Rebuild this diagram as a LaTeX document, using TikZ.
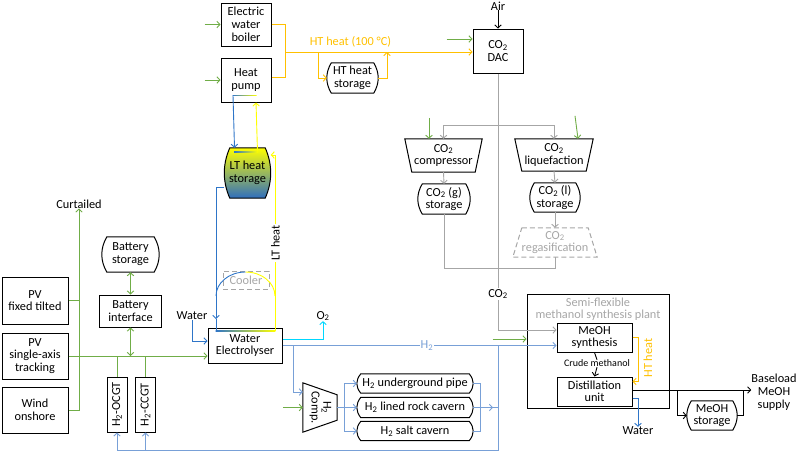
\documentclass[tikz,border=0pt]{standalone}
\usepackage{fontspec}
\setmainfont{Carlito}
\usetikzlibrary{arrows.meta,calc}
\definecolor{gcol}{RGB}{112,173,71}
\definecolor{ocol}{RGB}{255,192,0}
\definecolor{ycol}{RGB}{255,255,0}
\definecolor{bcol}{RGB}{46,117,200}
\definecolor{lbcol}{RGB}{120,160,215}
\definecolor{ccol}{RGB}{0,215,255}
\definecolor{grcol}{RGB}{166,166,166}
\definecolor{ltbot}{RGB}{47,110,190}
\definecolor{ltmid}{RGB}{205,220,160}
% storage outline: #1 options, #2 node name, #3 bulge
\newcommand\storoutline[3][]{%
  \draw[bline,#1] ([xshift=#3]#2.north west) -- ([xshift=-#3]#2.north east)
    .. controls ([xshift=#3/3]$(#2.north east)!0.33!(#2.south east)$)
       and ([xshift=#3/3]$(#2.north east)!0.67!(#2.south east)$) .. ([xshift=-#3]#2.south east)
    -- ([xshift=#3]#2.south west)
    .. controls ([xshift=-#3/3]$(#2.north west)!0.67!(#2.south west)$)
       and ([xshift=-#3/3]$(#2.north west)!0.33!(#2.south west)$) .. ([xshift=#3]#2.north west) -- cycle;}
\begin{document}
\begin{tikzpicture}[x=1pt,y=-1pt,
  every node/.style={font=\fontsize{12.3}{12.8}\selectfont, inner sep=0pt, align=center},
  box/.style={draw, line width=1pt, rectangle},
  stor/.style={rectangle},
  bline/.style={line width=1pt},
  ln/.style={line width=0.9pt},
  arr/.style={-{Straight Barb[length=3pt,width=6.5pt]}},
  dar/.style={{Straight Barb[length=3pt,width=6.5pt]}-{Straight Barb[length=3pt,width=6.5pt]}},
  g/.style={ln,draw=gcol},
  o/.style={ln,draw=ocol},
  yl/.style={ln,draw=ycol},
  b/.style={ln,draw=bcol},
  lb/.style={ln,draw=lbcol},
  cy/.style={ln,draw=ccol},
  gr/.style={ln,draw=grcol},
  k/.style={ln,draw=black},
  lbl/.style={fill=white, inner sep=1pt}
]
\useasboundingbox (0,0) rectangle (800,456);

% ---------- nodes ----------
\node[box, minimum width=66pt, minimum height=47pt] (pvf) at (35,300.5) {PV\\fixed tilted};
\node[box, minimum width=66pt, minimum height=46pt] (pvs) at (35,356) {PV\\single-axis\\tracking};
\node[box, minimum width=66pt, minimum height=46pt] (wind) at (35,410) {Wind\\onshore};
\node (curt) at (79,204) {Curtailed};
\node[stor, minimum width=57pt, minimum height=35pt] (bst) at (130.5,254.5) {Battery\\storage};
\storoutline{bst}{5pt}
\node[box, minimum width=62pt, minimum height=32pt] (bif) at (130.5,311) {Battery\\interface};
\node[box, minimum width=20pt, minimum height=55pt] (ocgt) at (117,404.5) {\rotatebox{90}{H\textsubscript{2}-OCGT}};
\node[box, minimum width=20pt, minimum height=55pt] (ccgt) at (145.5,404.5) {\rotatebox{90}{H\textsubscript{2}-CCGT}};
\node[box, minimum width=74pt, minimum height=35pt] (elec) at (245,345.5) {Water\\Electrolyser};
\node (win) at (192,316) {Water};
\node (o2) at (323,316) {O\textsubscript{2}};

\node[box, minimum width=50pt, minimum height=43pt] (ewb) at (246,24.5) {Electric\\water\\boiler};
\node[box, minimum width=50pt, minimum height=44pt] (hp) at (246,80) {Heat\\pump};
\node[stor, minimum width=51pt, minimum height=30pt] (hts) at (352.5,78) {HT heat\\storage};
\storoutline{hts}{4.5pt}
\node[box, minimum width=50pt, minimum height=44pt] (dac) at (498,51) {CO\textsubscript{2}\\DAC};
\node (air) at (498,6) {Air};

\node[minimum width=77pt, minimum height=33pt] (cmp) at (443.5,155.5) {CO\textsubscript{2}\\compressor};
\draw[bline] (cmp.north west) -- (cmp.north east) -- ([xshift=-7pt]cmp.south east) -- ([xshift=7pt]cmp.south west) -- cycle;
\node[minimum width=78pt, minimum height=32pt] (liq) at (554,155) {CO\textsubscript{2}\\liquefaction};
\draw[bline] (liq.north west) -- (liq.north east) -- ([xshift=-7pt]liq.south east) -- ([xshift=7pt]liq.south west) -- cycle;
\node[stor, minimum width=52pt, minimum height=30pt] (gst) at (444,199) {CO\textsubscript{2} (g)\\storage};
\storoutline{gst}{4.5pt}
\node[stor, minimum width=50pt, minimum height=29pt] (lst) at (555,197.5) {CO\textsubscript{2} (l)\\storage};
\storoutline{lst}{4.5pt}
\node[text=grcol, minimum width=84pt, minimum height=29pt] (reg) at (555,242.5) {CO\textsubscript{2}\\regasification};
\draw[grcol, line width=1pt, dash pattern=on 5pt off 3pt] ([xshift=9pt]reg.north west) -- ([xshift=-9pt]reg.north east) -- (reg.south east) -- (reg.south west) -- cycle;

\node[stor, minimum width=46pt, minimum height=50pt] (lts) at (247.5,173) {};
\storoutline[top color=ycol, middle color=ltmid, bottom color=ltbot]{lts}{5.5pt}
\node (ltstxt) at (lts) {LT heat\\storage};
\node[draw=grcol, dash pattern=on 5pt off 3pt, line width=1pt, minimum width=46pt, minimum height=18pt, text=grcol] (cool) at (246,280) {Cooler};

\node[minimum width=34pt, minimum height=49pt] (h2c) at (320,407.5) {\rotatebox{-90}{\begin{tabular}{@{}c@{}}H\textsubscript{2}\\[-1pt]Comp.\end{tabular}}};
\draw[bline] (h2c.north west) -- ([yshift=-12pt]h2c.north east) -- ([yshift=12pt]h2c.south east) -- (h2c.south west) -- cycle;
\node[stor, minimum width=116pt, minimum height=19pt] (ugp) at (415,383.5) {H\textsubscript{2} underground pipe};
\storoutline{ugp}{4pt}
\node[stor, minimum width=116pt, minimum height=20pt] (lrc) at (415,407.5) {H\textsubscript{2} lined rock cavern};
\storoutline{lrc}{4pt}
\node[stor, minimum width=116pt, minimum height=19pt] (salt) at (415,431) {H\textsubscript{2} salt cavern};
\storoutline{salt}{4pt}

\node[box, minimum width=142pt, minimum height=114pt] (plant) at (598,351) {};
\node[text=grcol, font=\fontsize{12.3}{11.8}\selectfont] (plbl) at (598,309) {Semi-flexible\\methanol synthesis plant};
\node[box, minimum width=75pt, minimum height=29pt, font=\fontsize{12.3}{11.8}\selectfont] (syn) at (594.5,337.5) {MeOH\\synthesis};
\node[box, minimum width=75pt, minimum height=29pt, font=\fontsize{12.3}{11.8}\selectfont] (dist) at (594.5,391.5) {Distillation\\unit};
\node[font=\fontsize{10}{11}\selectfont] (crude) at (597,363.5) {Crude methanol};
\node[stor, minimum width=50pt, minimum height=29pt] (mst) at (712,415.5) {MeOH\\storage};
\storoutline{mst}{4.5pt}
\node (bl) at (774,392) {Baseload\\MeOH\\supply};
\node (wout) at (638,431) {Water};

% ---------- green ----------
\draw[g,arr] (wind.east) -| (curt.south);
\draw[g] (pvf.east) -- (pvf.east -| curt.south);
\draw[g,arr] (pvs.east) -- (pvs.east -| elec.west);
\draw[g,dar] (bst.south) -- (bif.north);
\draw[g,dar] (bif.south) -- (bif.south |- pvs.east);
\draw[g] (ocgt.north) -- (ocgt.north |- pvs.east);
\draw[g] (ccgt.north) -- (ccgt.north |- pvs.east);
\draw[g,arr] ([xshift=-16pt]ewb.west) -- (ewb.west);
\draw[g,arr] ([xshift=-16pt]hp.west) -- (hp.west);
\draw[g,arr] ([xshift=-26pt,yshift=12pt]dac.west) -- ([yshift=12pt]dac.west);
\draw[g,arr] ([xshift=-14.5pt,yshift=21pt]cmp.north) -- ([xshift=-14.5pt]cmp.north);
\draw[g,arr] ([xshift=21pt,yshift=23pt]liq.north) -- ([xshift=24pt]liq.north);
\draw[g,arr] ([xshift=-34pt,yshift=12pt]plant.west) -- ([yshift=12pt]plant.west);
\draw[g,arr] ([xshift=-20pt]h2c.west) -- (h2c.west);

% ---------- HT heat ----------
\coordinate (htj) at (285,52);
\coordinate (htb) at (318,52);
\coordinate (htm) at (387,52);
\draw[o] (ewb.east) -| (htj);
\draw[o] ([yshift=3pt]hp.east) -| (htj);
\draw[o,arr] (htj) -- (htj -| dac.west);
\draw[o,arr] (htb) |- (hts.west);
\draw[o,arr] (hts.east) -| (htm);
\draw[o,arr] (syn.east) -- ++(6,0) |- ([yshift=10pt]dist.east);

% ---------- LT heat loop ----------
\draw[b,arr] ([xshift=-13pt,yshift=7pt]hp.south) -- ([xshift=-13pt]lts.north);
\draw[yl,arr] ([xshift=10pt,yshift=-4pt]lts.north) -- ([xshift=10pt]hp.south);
\shade[left color=bcol, right color=ycol] ([xshift=-13.5pt,yshift=7.5pt]hp.south) rectangle ([xshift=10.5pt,yshift=6.6pt]hp.south);
\shade[left color=bcol, right color=ycol] ([xshift=-13.5pt,yshift=-3.5pt]lts.north) rectangle ([xshift=10.5pt,yshift=-4.4pt]lts.north);
\coordinate (ltA) at (216,319);
\coordinate (ltC) at (216,331);
\coordinate (ltB) at (275,331);
\draw[b,arr] ([yshift=-14pt]lts.west) -| (ltA);
\draw[b] (ltA) -- (ltC);
\shade[left color=bcol, right color=ycol] (215.55,330.55) rectangle (275.45,331.45);
\draw[yl,arr] (ltB) |- ([yshift=18pt]lts.east);
\draw[b] (216,296) arc[start angle=180,end angle=270,x radius=29.5,y radius=24];
\draw[yl] (245.5,272) arc[start angle=270,end angle=360,x radius=29.5,y radius=24];

% ---------- water / O2 ----------
\draw[b,arr] (win.south) |- ([yshift=4.5pt]elec.west);
\draw[cy,arr] ([yshift=6.5pt]elec.east) -| (o2.south);
\draw[b,arr] ([yshift=-6.5pt]dist.east) -| (wout.north);

% ---------- H2 ----------
\draw[lb,arr] (elec.east) -- (elec.east -| syn.west)
  node[pos=0.527, lbl, text=lbcol] {H\textsubscript{2}};
\coordinate (h2b) at ([xshift=11pt]elec.east);
\draw[lb,arr] (h2b) |- ([yshift=15.5pt]h2c.west);
\coordinate (h2s) at ([xshift=7pt]h2c.east);
\draw[lb,arr] (h2c.east) -- (lrc.west);
\draw[lb,arr] (h2s) |- (ugp.west);
\draw[lb,arr] (h2s) |- (salt.west);
\coordinate (h2r) at ([xshift=7pt]lrc.east);
\draw[lb] (ugp.east) -| (h2r);
\draw[lb] (salt.east) -| (h2r);
\coordinate (h2top) at (elec.east -| dac.south);
\coordinate (h2bot) at ([yshift=-18pt]h2top |- ocgt.south);
\draw[lb,arr] (lrc.east) -- ([xshift=-5pt]lrc.east -| h2top);
\draw[lb] ([xshift=-5pt]lrc.east -| h2top) -- (lrc.east -| h2top);
\draw[lb,arr] (h2top) -- (h2bot) -| (ocgt.south);
\draw[lb,arr] (ccgt.south |- h2bot) -- (ccgt.south);

% ---------- MeOH ----------
\draw[k] (syn.south) -- (crude.north);
\draw[k,arr] (crude.south) -- (dist.north);
\draw[k,arr] ([yshift=1.5pt]dist.east) -- ([yshift=1.5pt]dist.east -| bl.west);
\coordinate (mb) at ([xshift=45pt,yshift=1.5pt]dist.east);
\draw[k,arr] (mb) |- (mst.west);
\draw[k] (mst.east) -| ([xshift=6pt]mst.east |- mb);

% ---------- CO2 ----------
\draw[k,arr] (air.south) -- (dac.north);
\coordinate (cj) at ([yshift=-52pt]dac.south);
\draw[gr,arr] (dac.south) |- ([yshift=7.5pt]syn.west);
\draw[gr,arr] (cj) -| (cmp.north);
\draw[gr,arr] (cj) -| (liq.north);
\draw[gr,arr] (cmp.south) -- (gst.north);
\draw[gr,arr] (liq.south) -- (lst.north);
\draw[gr,arr] (lst.south) -- (reg.north);
\draw[gr] (gst.south) -- ++(0,54) -| (reg.south);

% ---------- labels on lines ----------
\node[text=ocol] (htlbl) at (350.5,42) {HT heat (100 °C)};
\node[lbl, rotate=90] (ltlbl) at (275.5,243) {LT heat};
\node[lbl] (co2lbl) at (498,294) {CO\textsubscript{2}};
\node[text=ocol, rotate=90] (htlbl2) at (648,358) {HT heat};
\end{tikzpicture}
\end{document}
